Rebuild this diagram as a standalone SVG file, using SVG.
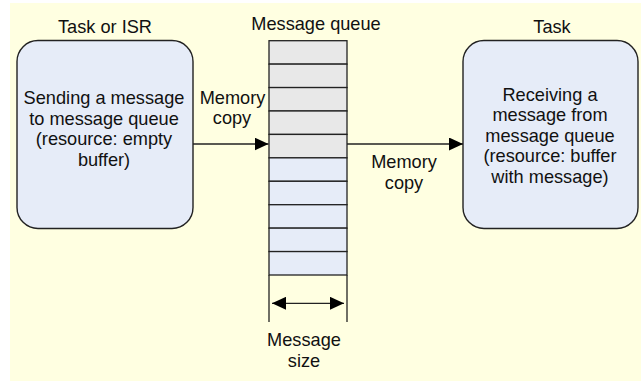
<svg xmlns="http://www.w3.org/2000/svg" width="641" height="382" viewBox="0 0 641 382">
  <style>
    text { font-family: "Liberation Sans", Arial, sans-serif; font-size: 18.2px; fill: #111; text-anchor: middle; }
    .box { fill: #e6ecf8; stroke: #222; stroke-width: 1.4; }
    .slot { stroke: #222; stroke-width: 1.3; }
    .used { fill: #e8e8e8; }
    .free { fill: #e6ecf8; }
    .line { stroke: #222; stroke-width: 1.3; fill: none; }
  </style>
  <defs>
    <marker id="arrow" viewBox="0 0 14 13" refX="14" refY="6.5" markerWidth="14" markerHeight="13" markerUnits="userSpaceOnUse" orient="auto-start-reverse">
      <path d="M0,0 L14,6.5 L0,13 Z" fill="#000"/>
    </marker>
  </defs>

  <!-- page background -->
  <rect x="10" y="3" width="631" height="378" fill="#ffffe1"/>

  <!-- sender -->
  <g id="sender">
    <text x="105" y="32.5">Task or ISR</text>
    <rect class="box" x="17" y="40.5" width="176" height="188" rx="21" ry="21"/>
    <text x="104" y="104">Sending a message</text>
    <text x="104" y="124.7">to message queue</text>
    <text x="104" y="145.4">(resource: empty</text>
    <text x="104" y="166">buffer)</text>
  </g>

  <!-- message queue: 10 slots, top 5 filled -->
  <g id="queue">
    <text x="316" y="29.5">Message queue</text>
    <rect class="slot used" x="269" y="40.7" width="78" height="23.43"/>
    <rect class="slot used" x="269" y="64.13" width="78" height="23.43"/>
    <rect class="slot used" x="269" y="87.56" width="78" height="23.43"/>
    <rect class="slot used" x="269" y="110.99" width="78" height="23.43"/>
    <rect class="slot used" x="269" y="134.42" width="78" height="23.43"/>
    <rect class="slot free" x="269" y="157.85" width="78" height="23.43"/>
    <rect class="slot free" x="269" y="181.28" width="78" height="23.43"/>
    <rect class="slot free" x="269" y="204.71" width="78" height="23.43"/>
    <rect class="slot free" x="269" y="228.14" width="78" height="23.43"/>
    <rect class="slot free" x="269" y="251.57" width="78" height="23.43"/>
    <line class="line" x1="269" y1="275" x2="269" y2="322"/>
    <line class="line" x1="347" y1="275" x2="347" y2="322"/>
    <text x="304" y="346">Message</text>
    <text x="304" y="367">size</text>
  </g>

  <!-- receiver -->
  <g id="receiver">
    <text x="552" y="32.5">Task</text>
    <rect class="box" x="463" y="40.5" width="175" height="188" rx="21" ry="21"/>
    <text x="550" y="100.7">Receiving a</text>
    <text x="550" y="121.2">message from</text>
    <text x="550" y="141.7">message queue</text>
    <text x="550" y="162.2">(resource: buffer</text>
    <text x="550" y="182.7">with message)</text>
  </g>

  <!-- connectors -->
  <g id="connectors">
    <line class="line" x1="193" y1="144" x2="268.5" y2="144" marker-end="url(#arrow)"/>
    <text x="232.5" y="103.5">Memory</text>
    <text x="232" y="124">copy</text>
    <line class="line" x1="347" y1="144" x2="463" y2="144" marker-end="url(#arrow)"/>
    <text x="404" y="168">Memory</text>
    <text x="404" y="188.5">copy</text>
    <line class="line" x1="272" y1="303.3" x2="344" y2="303.3" marker-start="url(#arrow)" marker-end="url(#arrow)"/>
  </g>
</svg>
